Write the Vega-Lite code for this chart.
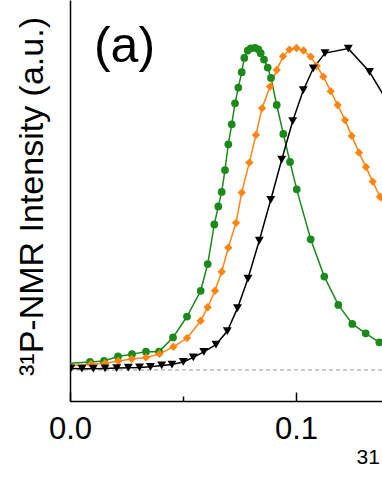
{
  "$schema": "https://vega.github.io/schema/vega-lite/v6.json",
  "autosize": {"type": "none"},
  "width": 312,
  "height": 401,
  "padding": {"left": 70, "top": 0, "right": 0, "bottom": 93},
  "background": "white",
  "config": {
    "view": {"stroke": null},
    "font": "Liberation Sans",
    "axis": {"grid": false, "domainColor": "black", "domainWidth": 1.5, "tickColor": "black", "tickWidth": 1.5, "labelColor": "black", "titleColor": "black", "labelFont": "Liberation Sans", "titleFont": "Liberation Sans", "titleFontWeight": "normal"}
  },
  "datasets": {
    "spectra": [
      {"s": "S1", "x": -0.0031, "y": 0.019},
      {"s": "S1", "x": 0.00885, "y": 0.025},
      {"s": "S1", "x": 0.01504, "y": 0.028},
      {"s": "S1", "x": 0.02124, "y": 0.042},
      {"s": "S1", "x": 0.02743, "y": 0.049},
      {"s": "S1", "x": 0.03363, "y": 0.057},
      {"s": "S1", "x": 0.03938, "y": 0.057},
      {"s": "S1", "x": 0.04558, "y": 0.101},
      {"s": "S1", "x": 0.05177, "y": 0.166},
      {"s": "S1", "x": 0.05783, "y": 0.246},
      {"s": "S1", "x": 0.06093, "y": 0.329},
      {"s": "S1", "x": 0.06385, "y": 0.452},
      {"s": "S1", "x": 0.06562, "y": 0.508},
      {"s": "S1", "x": 0.06712, "y": 0.553},
      {"s": "S1", "x": 0.06858, "y": 0.621},
      {"s": "S1", "x": 0.07004, "y": 0.701},
      {"s": "S1", "x": 0.07155, "y": 0.763},
      {"s": "S1", "x": 0.07301, "y": 0.828},
      {"s": "S1", "x": 0.07447, "y": 0.877},
      {"s": "S1", "x": 0.07597, "y": 0.925},
      {"s": "S1", "x": 0.07712, "y": 0.969},
      {"s": "S1", "x": 0.07863, "y": 0.992},
      {"s": "S1", "x": 0.07996, "y": 0.999},
      {"s": "S1", "x": 0.08186, "y": 1.0},
      {"s": "S1", "x": 0.08332, "y": 0.996},
      {"s": "S1", "x": 0.08438, "y": 0.984},
      {"s": "S1", "x": 0.08584, "y": 0.964},
      {"s": "S1", "x": 0.08748, "y": 0.939},
      {"s": "S1", "x": 0.08894, "y": 0.907},
      {"s": "S1", "x": 0.09146, "y": 0.823},
      {"s": "S1", "x": 0.09438, "y": 0.733},
      {"s": "S1", "x": 0.09735, "y": 0.646},
      {"s": "S1", "x": 0.10031, "y": 0.561},
      {"s": "S1", "x": 0.1065, "y": 0.406},
      {"s": "S1", "x": 0.11252, "y": 0.29},
      {"s": "S1", "x": 0.11872, "y": 0.202},
      {"s": "S1", "x": 0.12491, "y": 0.143},
      {"s": "S1", "x": 0.13084, "y": 0.114},
      {"s": "S1", "x": 0.13686, "y": 0.086},
      {"s": "S1", "x": 0.14292, "y": 0.062},
      {"s": "S2", "x": -0.0031, "y": 0.012},
      {"s": "S2", "x": 0.00929, "y": 0.018},
      {"s": "S2", "x": 0.01549, "y": 0.021},
      {"s": "S2", "x": 0.02137, "y": 0.028},
      {"s": "S2", "x": 0.0273, "y": 0.034},
      {"s": "S2", "x": 0.03363, "y": 0.039},
      {"s": "S2", "x": 0.0396, "y": 0.05},
      {"s": "S2", "x": 0.04571, "y": 0.072},
      {"s": "S2", "x": 0.05177, "y": 0.099},
      {"s": "S2", "x": 0.05783, "y": 0.153},
      {"s": "S2", "x": 0.06093, "y": 0.195},
      {"s": "S2", "x": 0.06416, "y": 0.246},
      {"s": "S2", "x": 0.06712, "y": 0.305},
      {"s": "S2", "x": 0.07004, "y": 0.38},
      {"s": "S2", "x": 0.07345, "y": 0.457},
      {"s": "S2", "x": 0.07597, "y": 0.551},
      {"s": "S2", "x": 0.07934, "y": 0.644},
      {"s": "S2", "x": 0.0823, "y": 0.73},
      {"s": "S2", "x": 0.08496, "y": 0.813},
      {"s": "S2", "x": 0.0885, "y": 0.88},
      {"s": "S2", "x": 0.09146, "y": 0.932},
      {"s": "S2", "x": 0.09425, "y": 0.974},
      {"s": "S2", "x": 0.09712, "y": 0.995},
      {"s": "S2", "x": 0.10022, "y": 1.0},
      {"s": "S2", "x": 0.10332, "y": 0.992},
      {"s": "S2", "x": 0.1065, "y": 0.973},
      {"s": "S2", "x": 0.10916, "y": 0.944},
      {"s": "S2", "x": 0.11208, "y": 0.911},
      {"s": "S2", "x": 0.11535, "y": 0.866},
      {"s": "S2", "x": 0.11845, "y": 0.823},
      {"s": "S2", "x": 0.12168, "y": 0.776},
      {"s": "S2", "x": 0.12465, "y": 0.727},
      {"s": "S2", "x": 0.12788, "y": 0.675},
      {"s": "S2", "x": 0.13097, "y": 0.63},
      {"s": "S2", "x": 0.13394, "y": 0.585},
      {"s": "S2", "x": 0.13717, "y": 0.538},
      {"s": "S2", "x": 0.14027, "y": 0.494},
      {"s": "S3", "x": -0.0031, "y": 0.005},
      {"s": "S3", "x": 0.0004, "y": 0.005},
      {"s": "S3", "x": 0.0053, "y": 0.004},
      {"s": "S3", "x": 0.01031, "y": 0.004},
      {"s": "S3", "x": 0.01549, "y": 0.005},
      {"s": "S3", "x": 0.02066, "y": 0.006},
      {"s": "S3", "x": 0.0258, "y": 0.007},
      {"s": "S3", "x": 0.03075, "y": 0.008},
      {"s": "S3", "x": 0.03562, "y": 0.01},
      {"s": "S3", "x": 0.04058, "y": 0.014},
      {"s": "S3", "x": 0.04513, "y": 0.017},
      {"s": "S3", "x": 0.05013, "y": 0.025},
      {"s": "S3", "x": 0.05456, "y": 0.039},
      {"s": "S3", "x": 0.0592, "y": 0.056},
      {"s": "S3", "x": 0.0646, "y": 0.079},
      {"s": "S3", "x": 0.0696, "y": 0.121},
      {"s": "S3", "x": 0.07412, "y": 0.192},
      {"s": "S3", "x": 0.07876, "y": 0.284},
      {"s": "S3", "x": 0.08376, "y": 0.402},
      {"s": "S3", "x": 0.08881, "y": 0.528},
      {"s": "S3", "x": 0.09367, "y": 0.653},
      {"s": "S3", "x": 0.09854, "y": 0.773},
      {"s": "S3", "x": 0.10323, "y": 0.869},
      {"s": "S3", "x": 0.10765, "y": 0.937},
      {"s": "S3", "x": 0.11283, "y": 0.984},
      {"s": "S3", "x": 0.12314, "y": 0.998},
      {"s": "S3", "x": 0.13252, "y": 0.926},
      {"s": "S3", "x": 0.14204, "y": 0.814}
    ],
    "baseline": [{"y": 0}],
    "panel": [{"label": "(a)", "x": 0.0106, "y": 0.955}]
  },
  "layer": [
    {
      "data": {"name": "baseline"},
      "mark": {"type": "rule", "color": "#9a9a9a", "strokeWidth": 1, "strokeDash": [4, 3]},
      "encoding": {"y": {"field": "y", "type": "quantitative"}}
    },
    {
      "data": {"name": "spectra"},
      "mark": {"type": "line", "strokeWidth": 1.5, "clip": true},
      "encoding": {
        "x": {
          "field": "x", "type": "quantitative",
          "scale": {"domain": [0, 0.13805], "nice": false, "zero": false},
          "axis": {
            "values": [0, 0.05, 0.1],
            "labelExpr": "datum.value == 0.05 ? '' : format(datum.value, '.1f')",
            "labelFontSize": 31,
            "labelPadding": 22,
            "labelFlush": false,
            "labelOverlap": false,
            "tickSize": {"condition": {"test": "datum.value == 0.05", "value": -5}, "value": -9},
            "title": "31",
            "titleFontSize": 21,
            "titleAnchor": "start",
            "titleAlign": "left",
            "titleBaseline": "alphabetic",
            "titleX": 286,
            "titleY": 62
          }
        },
        "y": {
          "field": "y", "type": "quantitative",
          "scale": {"domain": [-0.0963, 1.149], "nice": false, "zero": false},
          "axis": {
            "ticks": false,
            "labels": false,
            "title": "³¹P-NMR Intensity  (a.u.)",
            "titleFontSize": 34,
            "titlePadding": 21,
            "titleY": 196
          }
        },
        "color": {"field": "s", "type": "nominal", "scale": {"domain": ["S1", "S2", "S3"], "range": ["#1b8a1b", "#ff8412", "#000000"]}, "legend": null},
        "order": {"field": "x", "type": "quantitative"}
      }
    },
    {
      "data": {"name": "spectra"},
      "mark": {"type": "point", "filled": true, "opacity": 1, "clip": true},
      "encoding": {
        "x": {"field": "x", "type": "quantitative"},
        "y": {"field": "y", "type": "quantitative"},
        "color": {"field": "s", "type": "nominal", "legend": null},
        "shape": {"field": "s", "type": "nominal", "scale": {"domain": ["S1", "S2", "S3"], "range": ["circle", "diamond", "triangle-down"]}, "legend": null},
        "size": {"field": "s", "type": "nominal", "scale": {"domain": ["S1", "S2", "S3"], "range": [60, 80, 75]}, "legend": null}
      }
    },
    {
      "data": {"name": "panel"},
      "mark": {"type": "text", "align": "left", "baseline": "alphabetic", "fontSize": 50, "font": "Liberation Sans", "color": "black"},
      "encoding": {
        "x": {"field": "x", "type": "quantitative"},
        "y": {"field": "y", "type": "quantitative"},
        "text": {"field": "label"}
      }
    }
  ]
}
